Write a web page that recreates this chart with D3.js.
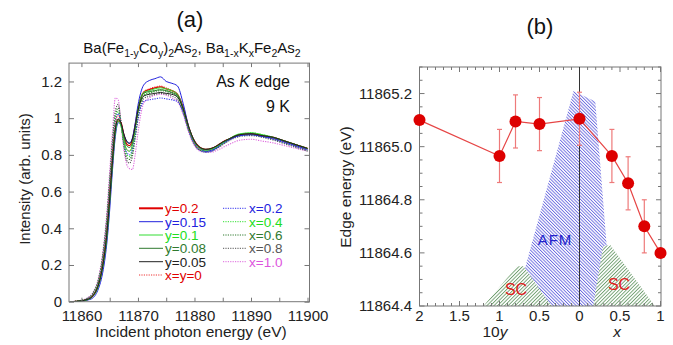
<!DOCTYPE html>
<html><head><meta charset="utf-8">
<script src="https://cdn.jsdelivr.net/npm/d3@7"></script>
<style>body{margin:0;background:#fff} text{font-family:"Liberation Sans",Arial,Helvetica,sans-serif}</style>
</head><body><svg id="c" width="673" height="345"></svg>
<script>
// ---------- Panel (a) data ----------
const energy = [11858,11860,11861,11862,11863,11863.5,11864,11864.5,11865,11865.5,11866,11866.5,11867,11867.5,11868,11868.5,11869,11869.5,11870,11870.5,11871,11872,11873,11874,11875,11876,11877,11878,11879,11880,11881,11882,11883,11884,11885,11886,11888,11890,11892,11894,11896,11898,11900];
const y020 = [0.00,0.005,0.01,0.03,0.09,0.15,0.24,0.36,0.55,0.76,0.93,0.985,0.975,0.91,0.86,0.85,0.88,0.96,1.05,1.11,1.14,1.155,1.165,1.17,1.16,1.15,1.13,1.06,0.95,0.875,0.84,0.83,0.835,0.85,0.87,0.885,0.91,0.915,0.905,0.895,0.875,0.855,0.835];
const y015 = [0.00,0.003,0.008,0.02,0.07,0.12,0.20,0.32,0.50,0.72,0.90,0.975,0.965,0.91,0.875,0.865,0.89,0.97,1.07,1.14,1.18,1.205,1.215,1.225,1.20,1.19,1.175,1.08,0.95,0.87,0.835,0.82,0.825,0.84,0.865,0.88,0.905,0.91,0.90,0.89,0.87,0.85,0.83];
const y010 = [0.00,0.004,0.01,0.028,0.085,0.145,0.23,0.35,0.54,0.75,0.92,0.985,0.955,0.88,0.83,0.82,0.85,0.94,1.04,1.11,1.14,1.15,1.16,1.165,1.16,1.15,1.13,1.05,0.945,0.87,0.835,0.825,0.83,0.845,0.865,0.885,0.915,0.92,0.91,0.895,0.875,0.855,0.835];
const y008 = [0.00,0.005,0.012,0.032,0.095,0.155,0.245,0.37,0.56,0.77,0.94,0.995,0.97,0.90,0.85,0.84,0.865,0.95,1.045,1.105,1.135,1.145,1.15,1.155,1.15,1.14,1.125,1.055,0.95,0.875,0.84,0.83,0.835,0.85,0.87,0.885,0.91,0.915,0.905,0.895,0.875,0.855,0.835];
const y005 = [0.00,0.005,0.012,0.03,0.09,0.15,0.24,0.37,0.56,0.77,0.94,0.995,0.975,0.915,0.875,0.862,0.885,0.955,1.04,1.095,1.12,1.13,1.135,1.14,1.135,1.13,1.115,1.05,0.95,0.875,0.84,0.83,0.835,0.85,0.87,0.885,0.91,0.915,0.905,0.895,0.875,0.855,0.835];
const xy0 = [0.00,0.006,0.014,0.036,0.10,0.17,0.27,0.41,0.61,0.82,0.97,1.015,0.97,0.88,0.83,0.82,0.85,0.94,1.04,1.11,1.145,1.16,1.17,1.175,1.165,1.15,1.13,1.05,0.94,0.865,0.83,0.825,0.83,0.845,0.865,0.885,0.91,0.915,0.905,0.89,0.87,0.85,0.83];
const x020 = [0.00,0.006,0.015,0.038,0.105,0.175,0.28,0.42,0.62,0.83,0.98,1.025,0.97,0.87,0.815,0.80,0.83,0.91,1.00,1.06,1.09,1.10,1.105,1.11,1.105,1.10,1.09,1.03,0.93,0.86,0.825,0.815,0.82,0.84,0.86,0.88,0.905,0.91,0.90,0.885,0.865,0.845,0.825];
const x040 = [0.00,0.007,0.016,0.04,0.11,0.18,0.29,0.43,0.63,0.84,0.99,1.035,0.97,0.865,0.805,0.79,0.825,0.915,1.02,1.09,1.125,1.14,1.15,1.155,1.15,1.14,1.12,1.045,0.94,0.865,0.83,0.82,0.83,0.845,0.865,0.885,0.91,0.92,0.91,0.895,0.875,0.855,0.835];
const x060 = [0.00,0.007,0.017,0.042,0.115,0.19,0.30,0.45,0.65,0.86,1.01,1.055,0.975,0.86,0.79,0.775,0.81,0.90,1.005,1.08,1.12,1.135,1.145,1.15,1.145,1.135,1.115,1.04,0.935,0.86,0.825,0.82,0.825,0.84,0.86,0.88,0.905,0.91,0.90,0.885,0.865,0.845,0.825];
const x080 = [0.00,0.008,0.018,0.045,0.12,0.195,0.31,0.46,0.67,0.88,1.04,1.075,0.98,0.85,0.77,0.755,0.79,0.885,0.99,1.065,1.105,1.12,1.13,1.135,1.13,1.12,1.10,1.03,0.93,0.855,0.825,0.815,0.82,0.835,0.855,0.875,0.90,0.905,0.895,0.88,0.86,0.84,0.82];
const x100 = [0.00,0.009,0.02,0.05,0.13,0.21,0.33,0.49,0.71,0.93,1.11,1.10,0.97,0.83,0.75,0.725,0.72,0.80,0.92,1.02,1.08,1.11,1.125,1.13,1.125,1.11,1.09,1.02,0.92,0.85,0.82,0.815,0.815,0.825,0.84,0.855,0.88,0.885,0.875,0.865,0.85,0.835,0.82];
const legendLabels = ["y=0.2","y=0.15","y=0.1","y=0.08","y=0.05","x=y=0","x=0.2","x=0.4","x=0.6","x=0.8","x=1.0"];
const seriesValues = [y020,y015,y010,y008,y005,xy0,x020,x040,x060,x080,x100];
const xTicksA = [11860,11870,11880,11890,11900];
const yTicksA = [0,0.2,0.4,0.6,0.8,1,1.2];

// ---------- Panel (b) data ----------
const tenY = [2,1,0.8,0.5,0];
const edgeY = [11865.10,11864.965,11865.095,11865.085,11865.105];
const errY = [0,0.1,0.1,0.1,0.1];
const compX = [0.4,0.6,0.8,1.0];
const edgeX = [11864.965,11864.862,11864.70,11864.60];
const errX = [0.1,0.1,0.1,0];
const afmSide = ["y","y","x","x","x"];
const afmComp = [0.81,0.075,0.195,0.34,0.30];
const afmE = [11864.4,11865.21,11865.17,11864.61,11864.4];
const scLSide = ["y","y","y","y"];
const scLComp = [1.2,0.78,0.70,0.35];
const scLE = [11864.4,11864.55,11864.55,11864.4];
const scRSide = ["x","x","x","x"];
const scRComp = [0.17,0.29,0.38,0.93];
const scRE = [11864.4,11864.625,11864.63,11864.4];
const tenYTicks = [2,1.5,1,0.5,0];
const xTicksB = [0.5,1];
const yTicksB = [11864.4,11864.6,11864.8,11865.0,11865.2];

// ---------- styles ----------
const styles = [
 {c:"#e00000",w:1.3,d:null},{c:"#2222dd",w:1,d:null},{c:"#33dd33",w:1,d:null},{c:"#2f7a2f",w:1,d:null},{c:"#222",w:1,d:null},
 {c:"#ee3333",w:1,d:"1.2,1.2"},{c:"#3333ee",w:1.1,d:"1.2,1.2"},{c:"#33e033",w:1.1,d:"1.2,1.2"},{c:"#2f7a2f",w:1.1,d:"1.2,1.2"},{c:"#555",w:1.1,d:"1.2,1.2"},{c:"#dd66dd",w:1.1,d:"1.2,1.2"}
];
const legendW = [2,1,1,1,1,1,1,1,1,1,1];
const textColors = ["#e00000","#2222dd","#22dd22","#2f7a2f","#222","#e00000","#2222dd","#22dd22","#2f7a2f","#555","#dd55dd"];

const svg = d3.select("#c");
const frameCol = "#777";

// ================= Panel (a) =================
const A = {l:69,r:309.5,t:63.1,b:301.7};
const xa = d3.scaleLinear().domain([11857.8,11900.35]).range([A.l,A.r]);
const ya = d3.scaleLinear().domain([0,1.3]).range([A.b,A.t]);
svg.append("clipPath").attr("id","clipA").append("rect").attr("x",A.l).attr("y",A.t).attr("width",A.r-A.l).attr("height",A.b-A.t);

const line = d3.line().x((d,i)=>xa(energy[i])).y(d=>ya(d)).curve(d3.curveMonotoneX);
const gA = svg.append("g").attr("clip-path","url(#clipA)");
const order = [10,9,8,7,6,5,0,1,2,3,4];
order.forEach(k=>{
  gA.append("path").attr("d",line(seriesValues[k])).attr("fill","none")
    .attr("stroke",styles[k].c).attr("stroke-width",styles[k].w)
    .attr("stroke-dasharray",styles[k].d);
});

// axes a
const axA = svg.append("g");
axA.append("g").attr("transform",`translate(0,${A.b})`)
  .call(d3.axisBottom(xa).tickValues(d3.range(11860,11901,5)).tickSize(-4).tickPadding(9).tickFormat(d=>xTicksA.includes(d)?d:""))
  .call(g=>{g.select(".domain").remove();g.selectAll("line").attr("stroke",frameCol);g.selectAll("text").attr("font-size",15).attr("fill","#222");});
axA.append("g").attr("transform",`translate(0,${A.t})`)
  .call(d3.axisTop(xa).tickValues(d3.range(11860,11901,5)).tickSize(-4).tickFormat(""))
  .call(g=>{g.select(".domain").remove();g.selectAll("line").attr("stroke",frameCol);});
axA.append("g").attr("transform",`translate(${A.l},0)`)
  .call(d3.axisLeft(ya).tickValues(yTicksA).tickSize(-5).tickPadding(7).tickFormat(d=>d===0||d===1?d3.format("d")(d):d3.format(".1f")(d)))
  .call(g=>{g.select(".domain").remove();g.selectAll("line").attr("stroke",frameCol);g.selectAll("text").attr("font-size",15).attr("fill","#222");});
axA.append("g").attr("transform",`translate(${A.r},0)`)
  .call(d3.axisRight(ya).tickValues(yTicksA).tickSize(-5).tickFormat(""))
  .call(g=>{g.select(".domain").remove();g.selectAll("line").attr("stroke",frameCol);});
svg.append("rect").attr("x",A.l).attr("y",A.t).attr("width",A.r-A.l).attr("height",A.b-A.t).attr("fill","none").attr("stroke",frameCol).attr("stroke-width",1);

svg.append("text").attr("x",190).attr("y",27).attr("text-anchor","middle").attr("font-size",22).attr("fill","#111").text("(a)");
// subtitle
const sub = svg.append("text").attr("x",192).attr("y",53).attr("text-anchor","middle").attr("font-size",15).attr("fill","#111");
const parts = [["Ba(Fe",0],["1-y",1],["Co",0],["y",1],[")",0],["2",1],["As",0],["2",1],[", Ba",0],["1-x",1],["K",0],["x",1],["Fe",0],["2",1],["As",0],["2",1]];
let prev = 0;
parts.forEach(([t,s])=>{
  const dy = (s?4:0)-(prev?4:0);
  sub.append("tspan").attr("dy",dy).attr("font-size",s?10.5:15).text(t);
  prev = s;
});
const ak = svg.append("text").attr("x",290).attr("y",87).attr("text-anchor","end").attr("font-size",16).attr("fill","#111");
ak.append("tspan").text("As ");
ak.append("tspan").attr("font-style","italic").text("K");
ak.append("tspan").text(" edge");
svg.append("text").attr("x",290).attr("y",112).attr("text-anchor","end").attr("font-size",16).attr("fill","#111").text("9 K");
svg.append("text").attr("transform","translate(30,179) rotate(-90)").attr("text-anchor","middle").attr("font-size",15).attr("fill","#222").text("Intensity (arb. units)");
svg.append("text").attr("x",191).attr("y",337).attr("text-anchor","middle").attr("font-size",15.5).attr("fill","#222").text("Incident photon energy (eV)");

// legend
const rowY = [208.3,221.7,235,248.3,261.7,275];
legendLabels.forEach((lab,k)=>{
  const col = k<6?0:1, row = k<6?k:k-6;
  const x0 = col===0?139:223, y0 = rowY[row];
  svg.append("line").attr("x1",x0).attr("x2",x0+24).attr("y1",y0).attr("y2",y0)
    .attr("stroke",styles[k].c).attr("stroke-width",legendW[k]).attr("stroke-dasharray",styles[k].d);
  svg.append("text").attr("x",x0+26).attr("y",y0+4.8).attr("font-size",13.5).attr("fill",textColors[k]).text(lab);
});

// ================= Panel (b) =================
const B = {l:419.5,r:661,t:67,b:306};
const xL = d3.scaleLinear().domain([2,0]).range([B.l,579.5]);
const xR = d3.scaleLinear().domain([0,1]).range([579.5,660.5]);
const yb = d3.scaleLinear().domain([11864.4,11865.3]).range([B.b,B.t]);
const px = (side,v)=> side==="y"?xL(v):xR(v);

const defs = svg.append("defs");
function hatch(id,color,angle,sp,w){
  const p = defs.append("pattern").attr("id",id).attr("patternUnits","userSpaceOnUse")
    .attr("width",sp).attr("height",sp).attr("patternTransform",`rotate(${angle})`);
  p.append("rect").attr("width",sp).attr("height",sp).attr("fill","#fff");
  p.append("line").attr("x1",w/2).attr("y1",0).attr("x2",w/2).attr("y2",sp).attr("stroke",color).attr("stroke-width",w);
}
hatch("hAFM","#6a6ae0",-45,2.3,0.9);
hatch("hSC","#6f9f6f",45,2.5,0.9);
svg.append("clipPath").attr("id","clipB").append("rect").attr("x",B.l).attr("y",B.t).attr("width",B.r-B.l).attr("height",B.b-B.t);
const gB = svg.append("g").attr("clip-path","url(#clipB)");
const poly = (sides,comps,es)=> sides.map((s,i)=>[px(s,comps[i]),yb(es[i])]);
gB.append("polygon").attr("points",poly(afmSide,afmComp,afmE).join(" ")).attr("fill","url(#hAFM)");
gB.append("polygon").attr("points",poly(scLSide,scLComp,scLE).join(" ")).attr("fill","url(#hSC)");
gB.append("polygon").attr("points",poly(scRSide,scRComp,scRE).join(" ")).attr("fill","url(#hSC)");

// axes b
const axB = svg.append("g");
function xTicksGroup(y,dir){
  const g = axB.append("g");
  const minorL = d3.range(0,2.0001,0.1), minorR = d3.range(0,1.0001,0.1);
  minorL.forEach(v=>{const maj=Math.abs(v*2-Math.round(v*2))<1e-6; g.append("line").attr("x1",xL(v)).attr("x2",xL(v)).attr("y1",y).attr("y2",y+dir*(maj?5:3)).attr("stroke",frameCol);});
  minorR.forEach(v=>{const maj=Math.abs(v*2-Math.round(v*2))<1e-6; g.append("line").attr("x1",xR(v)).attr("x2",xR(v)).attr("y1",y).attr("y2",y+dir*(maj?5:3)).attr("stroke",frameCol);});
}
xTicksGroup(B.b,-1); xTicksGroup(B.t,1);
d3.range(11864.4,11865.3001,0.05).forEach(v=>{
  const maj = Math.abs((v-11864.4)/0.2-Math.round((v-11864.4)/0.2))<1e-4;
  [[B.l,1],[B.r,-1]].forEach(([x,dir])=>axB.append("line").attr("x1",x).attr("x2",x+dir*(maj?5:3)).attr("y1",yb(v)).attr("y2",yb(v)).attr("stroke",frameCol));
});
tenYTicks.forEach(v=>axB.append("text").attr("x",xL(v)).attr("y",321).attr("text-anchor","middle").attr("font-size",15).attr("fill","#222").text(v));
xTicksB.forEach(v=>axB.append("text").attr("x",xR(v)).attr("y",321).attr("text-anchor","middle").attr("font-size",15).attr("fill","#222").text(v));
yTicksB.forEach(v=>axB.append("text").attr("x",412).attr("y",yb(v)+5).attr("text-anchor","end").attr("font-size",15).attr("fill","#222").text(d3.format(".1f")(v)));
svg.append("rect").attr("x",B.l).attr("y",B.t).attr("width",B.r-B.l).attr("height",B.b-B.t).attr("fill","none").attr("stroke",frameCol);
svg.append("line").attr("x1",xL(0)).attr("x2",xL(0)).attr("y1",B.t).attr("y2",B.b).attr("stroke","#333").attr("stroke-width",1);

// labels b
svg.append("text").attr("x",555).attr("y",245).attr("text-anchor","middle").attr("font-size",15).attr("letter-spacing",1).attr("fill","#2222cc").text("AFM");
svg.append("text").attr("x",516).attr("y",295).attr("text-anchor","middle").attr("font-size",16).attr("fill","#e02020").text("SC");
svg.append("text").attr("x",619).attr("y",290).attr("text-anchor","middle").attr("font-size",16).attr("fill","#e02020").text("SC");
svg.append("text").attr("x",540).attr("y",34).attr("text-anchor","middle").attr("font-size",22).attr("fill","#111").text("(b)");
svg.append("text").attr("transform","translate(351,187) rotate(-90)").attr("text-anchor","middle").attr("font-size",15.5).attr("fill","#222").text("Edge energy (eV)");
const ty = svg.append("text").attr("x",495).attr("y",337).attr("text-anchor","middle").attr("font-size",15.5).attr("fill","#222");
ty.append("tspan").text("10"); ty.append("tspan").attr("font-style","italic").text("y");
svg.append("text").attr("x",617).attr("y",337).attr("text-anchor","middle").attr("font-size",15.5).attr("font-style","italic").attr("fill","#222").text("x");

// data b
const pts = tenY.map((v,i)=>({x:xL(v),y:edgeY[i],e:errY[i]})).concat(compX.map((v,i)=>({x:xR(v),y:edgeX[i],e:errX[i]})));
const gD = svg.append("g");
gD.append("path").attr("d",d3.line().x(d=>d.x).y(d=>yb(d.y))(pts)).attr("fill","none").attr("stroke","#e64545").attr("stroke-width",1.2);
pts.filter(d=>d.e>0).forEach(d=>{
  gD.append("line").attr("x1",d.x).attr("x2",d.x).attr("y1",yb(d.y-d.e)).attr("y2",yb(d.y+d.e)).attr("stroke","#ee7a7a").attr("stroke-width",1.2);
  [d.y-d.e,d.y+d.e].forEach(v=>gD.append("line").attr("x1",d.x-2.5).attr("x2",d.x+2.5).attr("y1",yb(v)).attr("y2",yb(v)).attr("stroke","#ee7a7a").attr("stroke-width",1.2));
});
gD.selectAll("circle").data(pts).join("circle").attr("cx",d=>d.x).attr("cy",d=>yb(d.y)).attr("r",6).attr("fill","#dd0000");
</script></body></html>
